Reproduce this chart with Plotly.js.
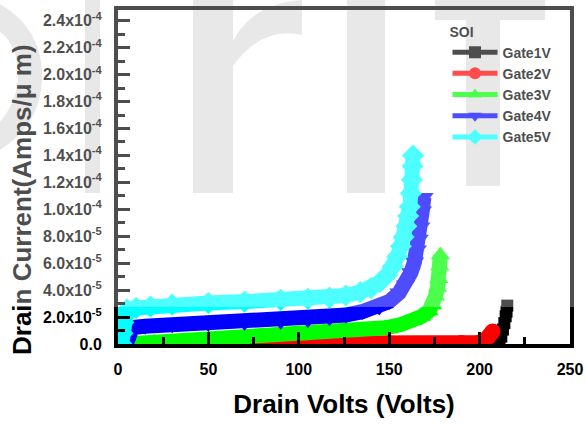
<!DOCTYPE html>
<html>
<head>
<meta charset="utf-8">
<script src="https://cdn.plot.ly/plotly-3.0.1.min.js"></script>
<style>
  html, body { margin: 0; padding: 0; background: #ffffff; }
  #wrap { position: relative; width: 586px; height: 424px; overflow: hidden; }
  #wm { position: absolute; left: 0; top: 0; z-index: 0; }
  #chart { position: absolute; left: 0; top: 0; width: 586px; height: 424px; z-index: 1; }
  #veil { position: absolute; left: 0; top: 0; width: 586px; height: 307px; background: rgba(255,255,255,0.3); z-index: 2; pointer-events: none; }
</style>
</head>
<body>
<div id="wrap">
  <svg id="wm" width="586" height="424" aria-hidden="true">
    <g fill="#dedede">
      <path d="M0,4 Q44,30 42,80 Q40,125 0,150 L0,122 Q18,100 18,76 Q18,45 0,32 Z"/>
      <rect x="85" y="0" width="15" height="193"/>
      <path d="M193,0 L233,0 L233,193 L193,193 Z"/>
      <path d="M228,52 Q246,4 302,0 L302,35 Q262,26 233,66 Z"/>
      <rect x="347" y="0" width="38" height="193"/>
      <rect x="466" y="0" width="34" height="186"/>
      <rect x="435" y="0" width="110" height="20"/>
    </g>
  </svg>
  <div id="chart"></div>
  <div id="veil"></div>
</div>
<script>
// ---- data (drain current in units of 1e-5 A/um) ----
const UNIT = 1e-5;
const seriesNames = ["Gate1V", "Gate2V", "Gate3V", "Gate4V", "Gate5V"];

const gate1V = [5, 100, 200, 209.5, 211, 212, 212.9, 213.7, 214.4, 214.9, 215.3];
const gate1I = [0, 0, 0, 0, 0.1, 0.55, 1.07, 1.55, 2.06, 2.4, 2.85];

const gate2V = [5, 50, 100, 150, 190, 200, 203, 205, 206.3, 207.2];
const gate2I = [0, 0, 0.02, 0.05, 0.08, 0.12, 0.3, 0.55, 0.78, 0.93];

const gate3V = [4.5, 10, 20, 35, 50, 65, 80, 90, 100, 112, 126, 138, 148, 156, 163, 168, 172, 174, 175.6, 176.7, 177.5, 178, 178.3];
const gate3I = [0, 0.05, 0.12, 0.2, 0.28, 0.37, 0.46, 0.53, 0.6, 0.7, 0.85, 1.0, 1.2, 1.42, 1.72, 2.05, 2.45, 2.9, 3.55, 4.2, 4.85, 5.8, 6.6];

const gate4V = [4.5, 5, 5.5, 6.5, 8, 15, 30, 50, 70, 90, 105, 117, 126, 135, 144.5, 150, 155.5, 159, 162, 164, 165.5, 166.5, 167.4, 168.3, 169.2];
const gate4I = [0, 0.4, 0.8, 1.1, 1.22, 1.32, 1.43, 1.52, 1.6, 1.69, 1.8, 1.95, 2.15, 2.4, 2.75, 3.15, 3.8, 4.4, 5.3, 6.1, 7.0, 7.8, 8.7, 9.9, 10.9];

const gate5V = [2, 2.5, 3, 4, 5, 10, 18, 30, 50, 70, 90, 105, 117, 126, 134, 140, 145, 149, 152, 154.5, 156.5, 158, 159.5, 160.5, 161.4, 162, 162.5, 162.9, 163.2];
const gate5I = [0, 0.8, 1.6, 2.2, 2.55, 2.68, 2.78, 2.92, 3.04, 3.15, 3.28, 3.36, 3.44, 3.6, 3.85, 4.15, 4.6, 5.15, 5.75, 6.5, 7.25, 7.95, 8.75, 9.5, 10.2, 11.2, 12.2, 13.2, 14.0];

const xTickVals = [0, 50, 100, 150, 200, 250];
const yTickVals = [0, 2e-5, 4e-5, 6e-5, 8e-5, 1e-4, 1.2e-4, 1.4e-4, 1.6e-4, 1.8e-4, 2.0e-4, 2.2e-4, 2.4e-4];
const yTickText = ["0.0", "2.0x10<sup>-5</sup>", "4.0x10<sup>-5</sup>", "6.0x10<sup>-5</sup>", "8.0x10<sup>-5</sup>",
  "1.0x10<sup>-4</sup>", "1.2x10<sup>-4</sup>", "1.4x10<sup>-4</sup>", "1.6x10<sup>-4</sup>", "1.8x10<sup>-4</sup>",
  "2.0x10<sup>-4</sup>", "2.2x10<sup>-4</sup>", "2.4x10<sup>-4</sup>"];
const yTitle = "Drain Current(Amps/μ m)";
const xTitle = "Drain Volts (Volts)";
const legendTitle = "SOI";

// ---- styles ----
const colors = ["#000000", "#ff0000", "#00ff00", "#0000ff", "#00ffff"];
const symbols = ["square", "circle", "triangle-up", "triangle-down", "diamond"];
const lineWidths = [9, 15, 15, 15, 15];
const markerSizes = [12, 16, 17, 17, 17];

const xs = [gate1V, gate2V, gate3V, gate4V, gate5V];
const ys = [gate1I, gate2I, gate3I, gate4I, gate5I];

const FONT = "Liberation Sans, Arial, Helvetica, sans-serif";

const traces = seriesNames.map((name, i) => ({
  type: "scatter",
  mode: "lines+markers",
  name: name,
  x: xs[i],
  y: ys[i].map(v => v * UNIT),
  line: { color: colors[i], width: lineWidths[i] },
  marker: { color: colors[i], symbol: symbols[i], size: markerSizes[i], line: { width: 0 } }
}));

const layout = {
  width: 586,
  height: 424,
  margin: { l: 118, r: 16, t: 10, b: 80, pad: 0 },
  paper_bgcolor: "rgba(0,0,0,0)",
  plot_bgcolor: "rgba(0,0,0,0)",
  showlegend: true,
  legend: {
    x: 0.729, y: 0.975, xanchor: "left", yanchor: "top",
    bgcolor: "rgba(0,0,0,0)", borderwidth: 0,
    itemsizing: "constant",
    itemwidth: 45,
    font: { family: FONT, size: 14, color: "#000000", weight: 700 },
    title: { text: legendTitle, font: { family: FONT, size: 14, color: "#000000", weight: 700 } },
    tracegroupgap: 0
  },
  annotations: [{
    text: yTitle, textangle: -90,
    xref: "paper", yref: "paper",
    x: (22 - 118) / 452, y: (344 - 200) / 334,
    xanchor: "center", yanchor: "middle", showarrow: false,
    font: { family: FONT, size: 26, color: "#000000", weight: 700 }
  }],
  xaxis: {
    range: [0, 250],
    tickvals: xTickVals,
    ticktext: xTickVals.map(String),
    ticks: "inside", ticklen: 12, tickwidth: 3, tickcolor: "#000000",
    minor: { dtick: 25, tick0: 0, ticks: "inside", ticklen: 7, tickwidth: 3, tickcolor: "#000000" },
    showline: true, linewidth: 4, linecolor: "#000000", mirror: true,
    showgrid: false, zeroline: false,
    tickfont: { family: FONT, size: 16, color: "#000000", weight: 700 },
    ticklabelstandoff: 8,
    title: { text: xTitle, font: { family: FONT, size: 26, color: "#000000", weight: 700 }, standoff: 19 }
  },
  yaxis: {
    range: [0, 2.48e-4],
    tickvals: yTickVals,
    ticktext: yTickText,
    ticks: "inside", ticklen: 12, tickwidth: 3, tickcolor: "#000000",
    minor: { dtick: 1e-5, tick0: 0, ticks: "inside", ticklen: 7, tickwidth: 3, tickcolor: "#000000" },
    showline: true, linewidth: 4, linecolor: "#000000", mirror: true,
    showgrid: false, zeroline: false,
    tickfont: { family: FONT, size: 16, color: "#000000", weight: 700 },
    ticklabelstandoff: 9
  }
};

Plotly.newPlot("chart", traces, layout, { staticPlot: true, displayModeBar: false });
</script>
</body>
</html>
